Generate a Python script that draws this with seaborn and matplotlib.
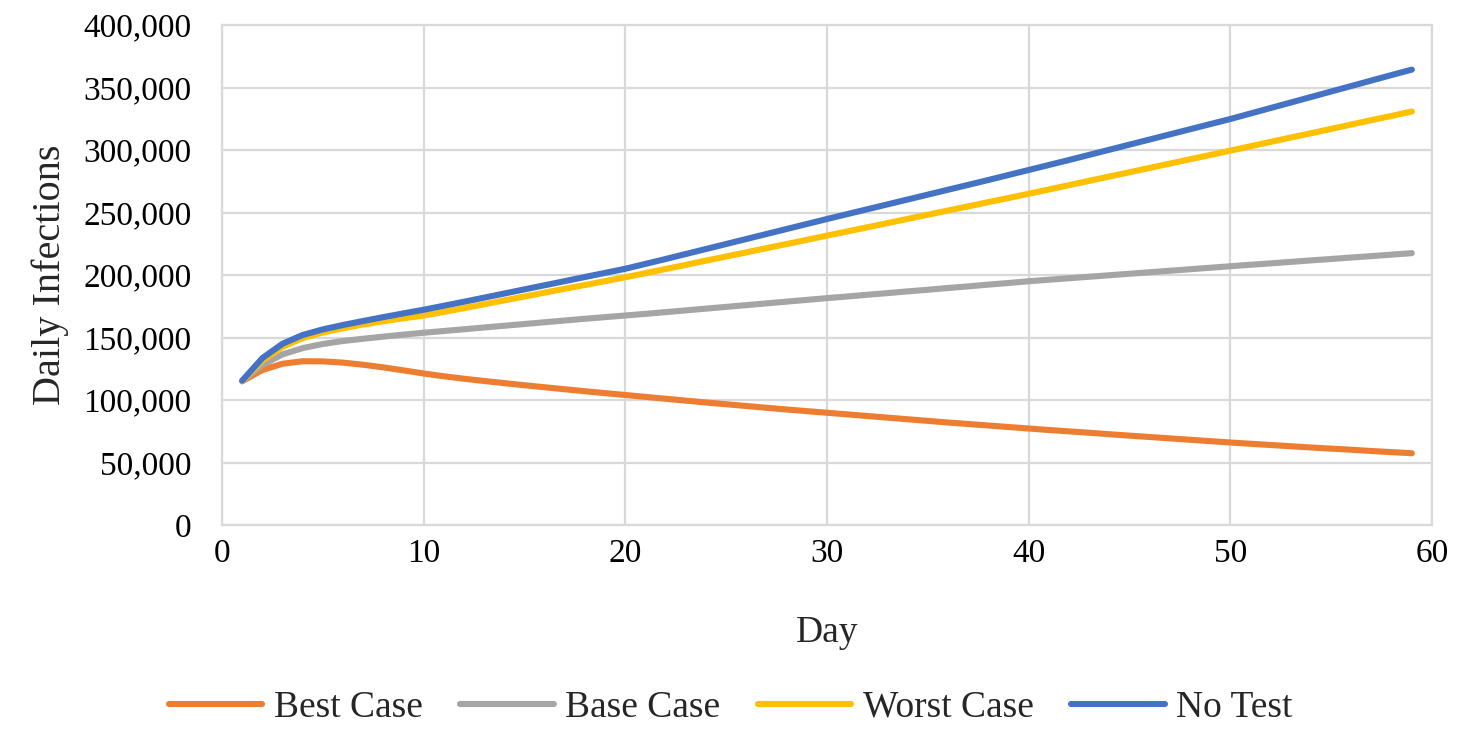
import numpy as np
import pandas as pd
import matplotlib
matplotlib.use("Agg")
import matplotlib.pyplot as plt
from matplotlib.ticker import FuncFormatter, MultipleLocator
import seaborn as sns

days = list(range(1, 60))

best_case = [115.0, 124.0, 129.0, 131.0, 130.9, 129.9, 128.2, 126.1, 123.7, 121.2,
             119.0, 117.0, 115.2, 113.5, 111.8, 110.2, 108.6, 107.0, 105.5, 104.0,
             102.5, 101.0, 99.5, 98.0, 96.6, 95.2, 93.8, 92.4, 91.1, 89.8,
             88.5, 87.2, 85.9, 84.6, 83.3, 82.0, 80.8, 79.6, 78.4, 77.2,
             76.0, 74.9, 73.8, 72.6, 71.5, 70.4, 69.3, 68.2, 67.1, 66.0,
             65.0, 64.0, 63.0, 62.0, 61.1, 60.2, 59.2, 58.3, 57.4]

base_case = [115.0, 128.0, 136.5, 141.5, 144.8, 147.2, 149.0, 150.7, 152.3, 153.8,
             155.2, 156.6, 158.0, 159.4, 160.8, 162.2, 163.6, 165.0, 166.3, 167.6,
             168.9, 170.3, 171.7, 173.1, 174.5, 175.9, 177.3, 178.7, 180.1, 181.5,
             182.8, 184.2, 185.5, 186.9, 188.2, 189.6, 190.9, 192.3, 193.6, 195.0,
             196.2, 197.4, 198.6, 199.8, 201.0, 202.2, 203.4, 204.6, 205.8, 207.0,
             208.2, 209.3, 210.5, 211.7, 212.8, 214.0, 215.1, 216.3, 217.5]

worst_case = [115.0, 131.5, 142.5, 149.5, 154.0, 157.4, 160.4, 163.0, 165.4, 167.6,
              170.5, 173.5, 176.6, 179.7, 182.8, 185.9, 189.0, 192.0, 195.1, 198.2,
              201.5, 204.8, 208.1, 211.5, 214.8, 218.1, 221.5, 224.8, 228.1, 231.5,
              234.8, 238.2, 241.5, 244.9, 248.2, 251.6, 254.9, 258.3, 261.6, 265.0,
              268.4, 271.9, 275.3, 278.8, 282.2, 285.7, 289.1, 292.6, 296.0, 299.5,
              303.0, 306.5, 310.0, 313.4, 316.9, 320.4, 323.9, 327.3, 330.8]

no_test = [115.5, 133.5, 145.0, 152.0, 156.5, 160.0, 163.2, 166.3, 169.3, 172.2,
           175.4, 178.6, 181.9, 185.2, 188.5, 191.8, 195.1, 198.4, 201.7, 205.0,
           208.9, 212.8, 216.8, 220.8, 224.8, 228.8, 232.8, 236.8, 240.8, 244.8,
           248.7, 252.6, 256.5, 260.4, 264.3, 268.2, 272.1, 276.0, 280.0, 284.0,
           288.0, 292.0, 296.1, 300.2, 304.3, 308.4, 312.5, 316.6, 320.7, 324.8,
           329.2, 333.6, 338.0, 342.4, 346.8, 351.2, 355.6, 360.0, 364.3]

series_names = ["Best Case", "Base Case", "Worst Case", "No Test"]
series_values = [best_case, base_case, worst_case, no_test]
colors = ["#ED7D31", "#A5A5A5", "#FFC000", "#4472C4"]

rows = []
for name, vals in zip(series_names, series_values):
    for d, v in zip(days, vals):
        rows.append({"Day": d, "Daily Infections": v * 1000, "Scenario": name})
df = pd.DataFrame(rows)

sns.set_theme(style="white")
plt.rcParams["font.family"] = ["Liberation Serif", "DejaVu Serif"]

fig = plt.figure(figsize=(14.61, 7.51), dpi=100)
ax = fig.add_axes([222 / 1461, 1 - 525 / 751, (1432 - 222) / 1461, (525 - 25) / 751])

sns.lineplot(data=df, x="Day", y="Daily Infections", hue="Scenario",
             hue_order=series_names, palette=colors, linewidth=4.4,
             solid_capstyle="round", solid_joinstyle="round", ax=ax,
             legend=False, zorder=3)

ax.set_xlim(0, 60)
ax.set_ylim(0, 400000)
ax.xaxis.set_major_locator(MultipleLocator(10))
ax.yaxis.set_major_locator(MultipleLocator(50000))
ax.yaxis.set_major_formatter(FuncFormatter(lambda v, p: f"{int(v):,}"))
ax.grid(True, color="#D9D9D9", linewidth=1.6, zorder=0)
ax.set_axisbelow(True)
for s in ax.spines.values():
    s.set_color("#D9D9D9")
    s.set_linewidth(1.6)
ax.tick_params(axis="both", length=0, labelsize=24, colors="black")
ax.tick_params(axis="y", pad=22)
ax.tick_params(axis="x", pad=10)
ax.set_xlabel("Day", fontsize=27, labelpad=33)
ax.set_ylabel("Daily Infections", fontsize=29, labelpad=10)

handles = [plt.Line2D([0], [0], color=c, linewidth=4.4, solid_capstyle="round") for c in colors]
fig.legend(handles, series_names, loc="center", bbox_to_anchor=(0.5, 0.058), ncol=4,
           frameon=False, fontsize=27, handlelength=2.5, handletextpad=0.3,
           columnspacing=1.0)

fig.savefig("out.png", dpi=100)
